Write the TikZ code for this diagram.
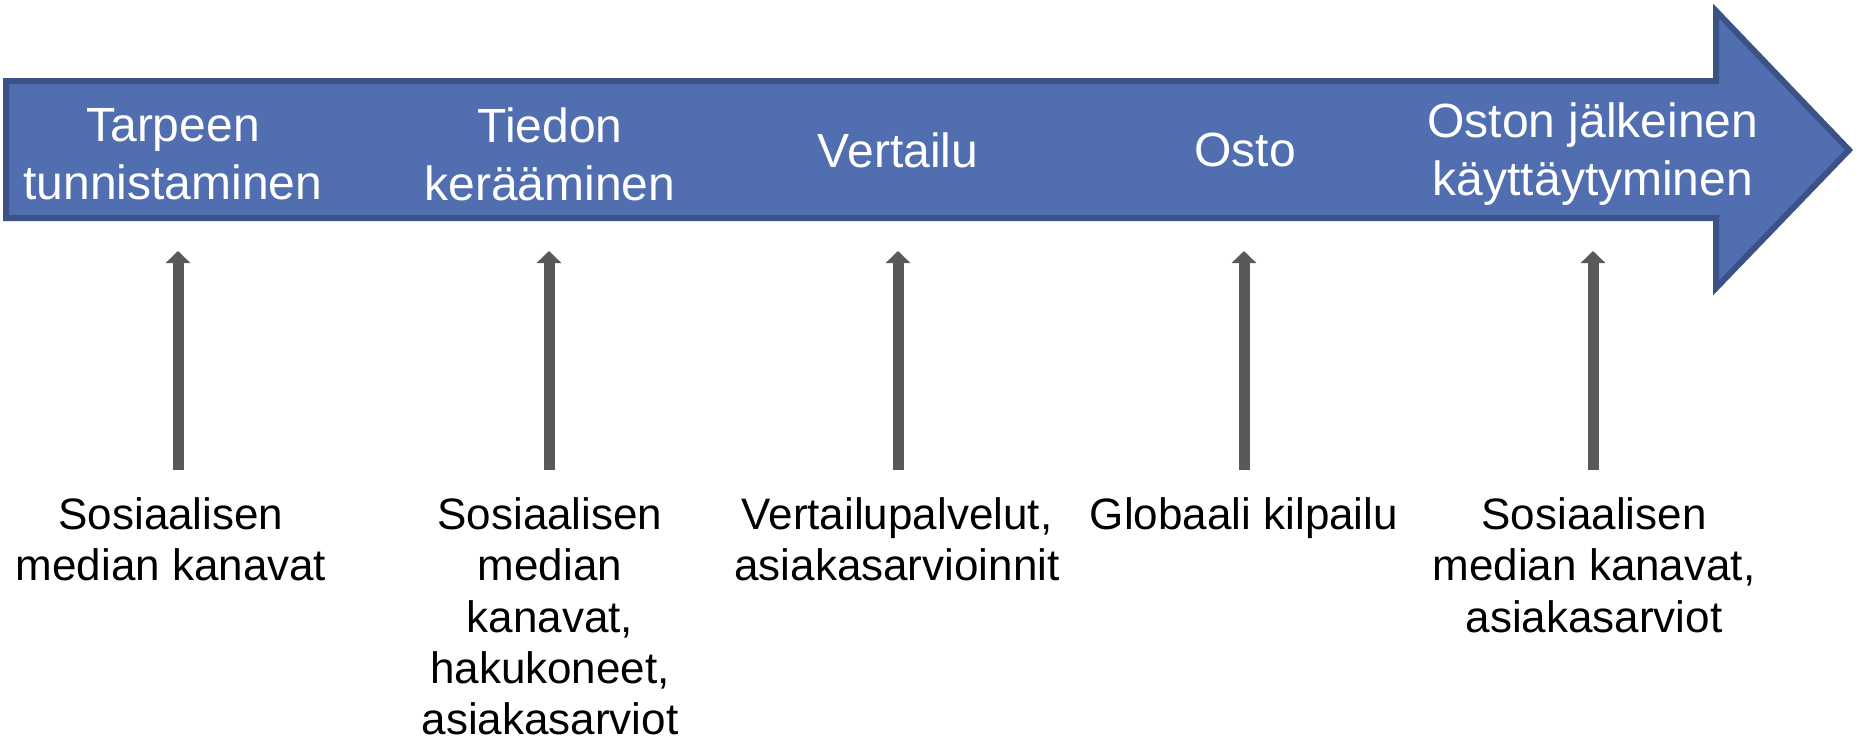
\documentclass[tikz,border=0pt]{standalone}
\usepackage{fontspec}
\setmainfont{Liberation Sans}
\usetikzlibrary{arrows.meta}
\definecolor{arrowfill}{RGB}{81,110,176}
\definecolor{arrowline}{RGB}{59,82,135}
\definecolor{smallarrow}{RGB}{89,89,89}
\begin{document}
\begin{tikzpicture}[x=0.5pt,y=-0.5pt,
  stagelabel/.style={text=white,align=center,inner sep=0pt,font=\fontsize{24}{29}\selectfont},
  channellabel/.style={text=black,align=center,inner sep=0pt,anchor=north,font=\fontsize{22}{25.7}\selectfont},
  uparrow/.style={draw=smallarrow,line width=5.5pt,-{Triangle[width=12pt,length=6pt]}}]
\useasboundingbox (0,0) rectangle (1860,744);
% big process arrow
\draw[fill=arrowfill,draw=arrowline,line width=3pt,miter limit=10]
  (6,81) -- (1716,81) -- (1716,11) -- (1849,150) -- (1716,288) -- (1716,218) -- (6,218) -- cycle;
% stage labels
\node[stagelabel] (s1) at (173,154) {Tarpeen\\tunnistaminen};
\node[stagelabel] (s2) at (550,154) {Tiedon\\kerääminen};
\node[stagelabel] (s3) at (898,150) {Vertailu};
\node[stagelabel] (s4) at (1245,150) {Osto};
\node[stagelabel] (s5) at (1593,154) {Oston jälkeinen\\käyttäytyminen};
% channel labels
\node[channellabel] (c1) at (171,497) {Sosiaalisen\\median kanavat};
\node[channellabel] (c2) at (550,497) {Sosiaalisen\\median\\kanavat,\\hakukoneet,\\asiakasarviot};
\node[channellabel] (c3) at (897,497) {Vertailupalvelut,\\asiakasarvioinnit};
\node[channellabel] (c4) at (1244,497) {Globaali kilpailu};
\node[channellabel] (c5) at (1594,497) {Sosiaalisen\\median kanavat,\\asiakasarviot};
% arrow end points
\foreach \i/\x in {1/178,2/549,3/898,4/1244,5/1593}{
  \coordinate (a\i) at (\x,470);
  \coordinate (b\i) at (\x,251);
}
\foreach \i in {1,...,5}{
  \draw[uparrow] (a\i) -- (b\i);
}
\end{tikzpicture}
\end{document}
